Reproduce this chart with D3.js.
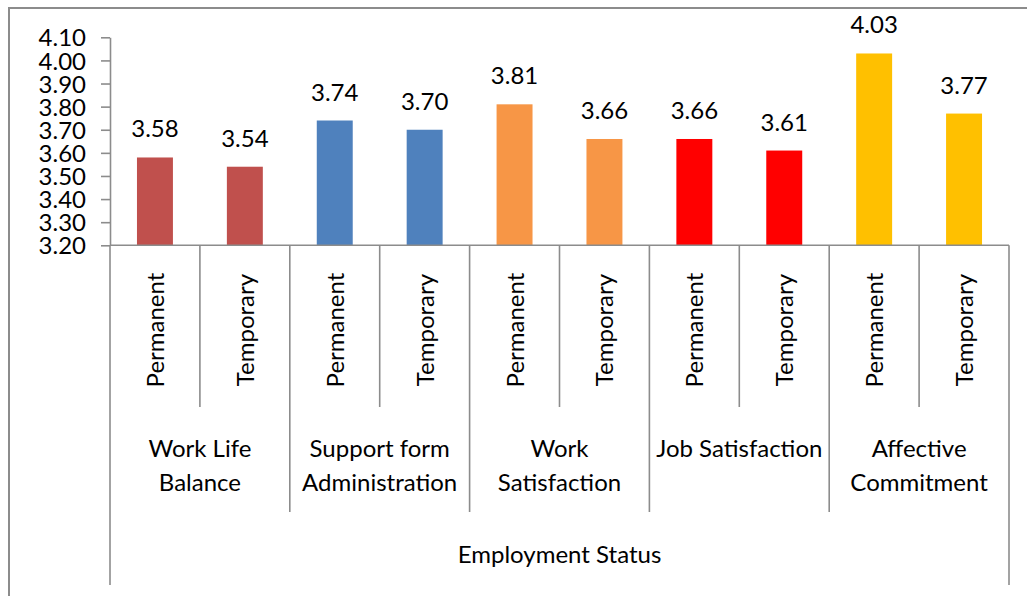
<!DOCTYPE html>
<html>
<head>
<meta charset="utf-8">
<script src="https://cdn.jsdelivr.net/npm/d3@7"></script>
<style>
  html, body { margin: 0; padding: 0; background: #fff; }
  svg { display: block; }
  text { font-family: Lato, "Liberation Sans", sans-serif; fill: #000; }
</style>
</head>
<body>
<svg id="chart" width="1027" height="596"></svg>
<script>
// Mean scores by dimension and employment status
const groups = ["Work Life Balance", "Support form Administration", "Work Satisfaction", "Job Satisfaction", "Affective Commitment"];
const groupLines = [["Work Life", "Balance"], ["Support form", "Administration"], ["Work", "Satisfaction"], ["Job Satisfaction"], ["Affective", "Commitment"]];
const statuses = ["Permanent", "Temporary"];
const permanent = [3.58, 3.74, 3.81, 3.66, 4.03];
const temporary = [3.54, 3.70, 3.66, 3.61, 3.77];
const groupColors = ["#C0504D", "#4F81BD", "#F79646", "#FF0000", "#FFC000"];
const yTicks = [3.2, 3.3, 3.4, 3.5, 3.6, 3.7, 3.8, 3.9, 4.0, 4.1];
const axisTitle = "Employment Status";

const rows = [];
groups.forEach((g, i) => {
  rows.push({ key: g + "|P", group: i, status: statuses[0], value: permanent[i] });
  rows.push({ key: g + "|T", group: i, status: statuses[1], value: temporary[i] });
});

const svg = d3.select("#chart");
const plotLeft = 110, plotRight = 1009, plotTop = 37.3, baseY = 245.3;
const lineColor = "#8C8C8C";

// Chart area border
svg.append("rect")
  .attr("x", 9).attr("y", 8).attr("width", 1040).attr("height", 620)
  .attr("fill", "none").attr("stroke", lineColor).attr("stroke-width", 2);

const y = d3.scaleLinear().domain([3.2, 4.1]).range([baseY, plotTop]);
const x = d3.scaleBand().domain(rows.map(d => d.key)).range([plotLeft, plotRight])
  .paddingInner(0.6).paddingOuter(0.3);
const step = x.step();

// Bars
svg.append("g").selectAll("rect").data(rows).join("rect")
  .attr("x", d => x(d.key))
  .attr("y", d => y(d.value))
  .attr("width", x.bandwidth())
  .attr("height", d => baseY - y(d.value))
  .attr("fill", d => groupColors[d.group]);

// Value labels
svg.append("g").selectAll("text").data(rows).join("text")
  .attr("x", d => x(d.key) + x.bandwidth() / 2)
  .attr("y", d => y(d.value) - 20)
  .attr("text-anchor", "middle")
  .style("font-size", "24px")
  .text(d => d.value.toFixed(2));

// Y axis
const yAxis = svg.append("g")
  .attr("transform", `translate(${plotLeft},0)`)
  .call(d3.axisLeft(y).tickValues(yTicks).tickFormat(d3.format(".2f"))
    .tickSize(9).tickSizeOuter(0).tickPadding(15));
yAxis.select(".domain").attr("stroke", lineColor).attr("stroke-width", 1.6);
yAxis.selectAll(".tick line").attr("stroke", lineColor).attr("stroke-width", 1.6);
yAxis.attr("font-family", null).attr("font-size", null);
yAxis.selectAll(".tick text")
  .style("font-size", "24px")
  .attr("fill", "#000")
  .attr("dy", "0.36em");

// X axis baseline
svg.append("line")
  .attr("x1", plotLeft).attr("x2", plotRight).attr("y1", baseY).attr("y2", baseY)
  .attr("stroke", lineColor).attr("stroke-width", 1.6);

// Separators: between status slots, between groups, and outer ends
const sepG = svg.append("g").attr("stroke", lineColor).attr("stroke-width", 1.6);
d3.range(rows.length + 1).forEach(i => {
  const xs = plotLeft + i * step;
  let y2 = 407;
  if (i % 2 === 0) y2 = 512;
  if (i === 0 || i === rows.length) y2 = 585;
  sepG.append("line").attr("x1", xs).attr("x2", xs).attr("y1", baseY).attr("y2", y2);
});

// Status labels (rotated)
svg.append("g").selectAll("text").data(rows).join("text")
  .attr("transform", d => `translate(${x(d.key) + x.bandwidth() / 2 + 9},330) rotate(-90)`)
  .attr("text-anchor", "middle")
  .style("font-size", "24px")
  .text(d => d.status);

// Group labels
const gl = svg.append("g").selectAll("text").data(groupLines).join("text")
  .attr("text-anchor", "middle")
  .style("font-size", "24px");
gl.each(function (lines, i) {
  const cx = plotLeft + (i * 2 + 1) * step;
  d3.select(this).selectAll("tspan").data(lines).join("tspan")
    .attr("x", cx)
    .attr("y", (d, j) => 457 + j * 33.5)
    .text(d => d);
});

// Axis title
svg.append("text")
  .attr("x", (plotLeft + plotRight) / 2)
  .attr("y", 563)
  .attr("text-anchor", "middle")
  .style("font-size", "24px")
  .text(axisTitle);
</script>
</body>
</html>
